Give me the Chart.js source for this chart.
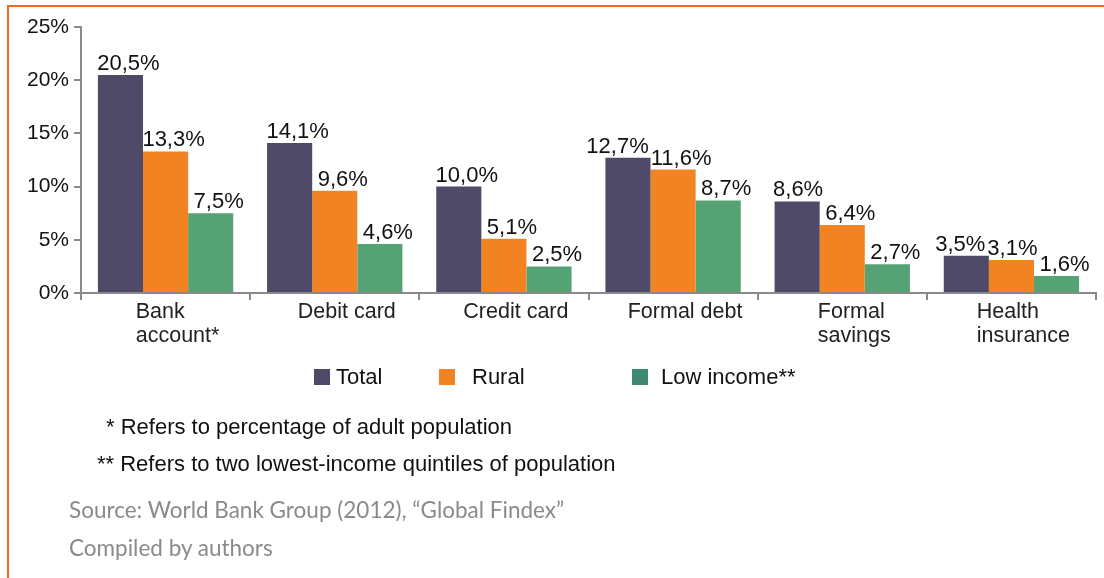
<!DOCTYPE html>
<html>
<head>
<meta charset="utf-8">
<script src="https://cdn.jsdelivr.net/npm/chart.js@4.4.1/dist/chart.umd.min.js"></script>
<style>
  html, body { margin: 0; padding: 0; background: #fff; }
  #wrap { position: relative; width: 1104px; height: 578px; overflow: hidden; }
  #frame { position: absolute; left: 7px; top: 5px; right: 0; bottom: 0;
           border-top: 2px solid #f26522; border-left: 2px solid #f26522; }
  #myChart { position: absolute; left: 0; top: 0; }
  .txt { position: absolute; white-space: nowrap; font-family: "Liberation Sans", Arial, sans-serif;
         font-size: 22px; color: #111; line-height: 24px; }
  .src { font-family: Lato, "Open Sans", sans-serif; color: #8a8a8a; font-size: 22.5px; }
  .key { position: absolute; width: 16px; height: 16px; }
</style>
</head>
<body>
<div id="wrap">
  <div id="frame"></div>
  <canvas id="myChart" width="1104" height="578"></canvas>
  <div id="legend"></div>
  <div class="txt" style="left:106px; top:415px;">* Refers to percentage of adult population</div>
  <div class="txt" style="left:97px; top:452px;">** Refers to two lowest-income quintiles of population</div>
  <div class="txt src" style="left:69px; top:498px;">Source: World Bank Group (2012), “Global Findex”</div>
  <div class="txt src" style="left:69px; top:536px;">Compiled by authors</div>
</div>
<script>
const categories = [['Bank', 'account*'], ['Debit card'], ['Credit card'], ['Formal debt'], ['Formal', 'savings'], ['Health', 'insurance']];
const seriesNames = ['Total', 'Rural', 'Low income**'];
const total = [20.5, 14.1, 10.0, 12.7, 8.6, 3.5];
const rural = [13.3, 9.6, 5.1, 11.6, 6.4, 3.1];
const lowIncome = [7.5, 4.6, 2.5, 8.7, 2.7, 1.6];
const yTicks = [0, 5, 10, 15, 20, 25];

const colors = ['#4f4a68', '#f28322', '#55a275'];
const keyColors = ['#4f4a68', '#f28322', '#3d8773'];
const FONT = '"Liberation Sans", Arial, sans-serif';

function pct(v) {
  return v.toFixed(1).replace('.', ',') + '%';
}

// value labels above each bar; within a group, a label that would run
// into its right neighbour at about the same height is pushed left
const barLabels = {
  id: 'barLabels',
  afterDatasetsDraw(chart) {
    const ctx = chart.ctx;
    ctx.save();
    ctx.font = '22px ' + FONT;
    ctx.fillStyle = '#111';
    ctx.textAlign = 'center';
    ctx.textBaseline = 'alphabetic';
    const nSeries = chart.data.datasets.length;
    chart.data.labels.forEach((_, j) => {
      const items = [];
      for (let i = 0; i < nSeries; i++) {
        const bar = chart.getDatasetMeta(i).data[j];
        const text = pct(chart.data.datasets[i].data[j]);
        items.push({ text, x: bar.x + 8, y: bar.y - 5, w: ctx.measureText(text).width });
      }
      for (let i = nSeries - 2; i >= 0; i--) {
        const a = items[i], b = items[i + 1];
        if (Math.abs(a.y - b.y) < 24) {
          const gap = (b.x - b.w / 2) - (a.x + a.w / 2) - 2;
          if (gap < 0) a.x += gap;
        }
      }
      items.forEach(it => ctx.fillText(it.text, it.x, it.y));
    });
    ctx.restore();
  }
};

// category names: lines left-aligned inside a block under each group
const catLabels = {
  id: 'catLabels',
  afterDraw(chart) {
    const ctx = chart.ctx;
    const xs = chart.scales.x;
    ctx.save();
    ctx.font = '21.5px ' + FONT;
    ctx.fillStyle = '#222';
    ctx.textAlign = 'left';
    ctx.textBaseline = 'alphabetic';
    categories.forEach((lines, i) => {
      const w = Math.max(...lines.map(l => ctx.measureText(l).width));
      const x0 = xs.getPixelForValue(i) - w / 2 + 12;
      lines.forEach((l, k) => ctx.fillText(l, x0, xs.bottom - xs.height + 25 + k * 24));
    });
    ctx.restore();
  }
};

function displayChart() {
  const ctx = document.getElementById('myChart');
  return new Chart(ctx, {
    type: 'bar',
    data: {
      labels: categories.map(c => c.join(' ')),
      datasets: [total, rural, lowIncome].map((d, i) => ({
        label: seriesNames[i],
        data: d,
        backgroundColor: colors[i],
        borderWidth: 0,
        categoryPercentage: 0.8,
        barPercentage: 1.0
      }))
    },
    options: {
      responsive: false,
      animation: false,
      layout: { padding: { left: 0, right: 8, top: 27, bottom: 225 } },
      plugins: {
        legend: { display: false },
        tooltip: { enabled: false }
      },
      scales: {
        x: {
          grid: { display: true, drawOnChartArea: false, offset: true, tickLength: 7, color: '#8a8a8a', lineWidth: 2 },
          border: { display: true, color: '#8a8a8a', width: 2 },
          ticks: { display: false, autoSkip: false },
          afterFit(scale) { scale.height = 60; }
        },
        y: {
          min: 0,
          max: 25,
          afterBuildTicks(scale) { scale.ticks = yTicks.map(v => ({ value: v })); },
          grid: { display: true, drawOnChartArea: false, tickLength: 7, color: '#8a8a8a', lineWidth: 2 },
          border: { display: true, color: '#8a8a8a', width: 2 },
          ticks: { color: '#111', font: { family: FONT, size: 21 }, padding: 5, callback: v => v + '%' },
          afterFit(scale) { scale.width = 81; }
        }
      }
    },
    plugins: [barLabels, catLabels]
  });
}

displayChart();

// legend row below the axis
const legend = document.getElementById('legend');
const keyLeft = [314, 439, 632];
const textLeft = [336, 472, 661];
seriesNames.forEach((name, i) => {
  const sq = document.createElement('div');
  sq.className = 'key';
  sq.style.left = keyLeft[i] + 'px';
  sq.style.top = '369px';
  sq.style.background = keyColors[i];
  legend.appendChild(sq);
  const t = document.createElement('div');
  t.className = 'txt';
  t.style.left = textLeft[i] + 'px';
  t.style.top = '365px';
  t.textContent = name;
  legend.appendChild(t);
});
</script>
</body>
</html>
